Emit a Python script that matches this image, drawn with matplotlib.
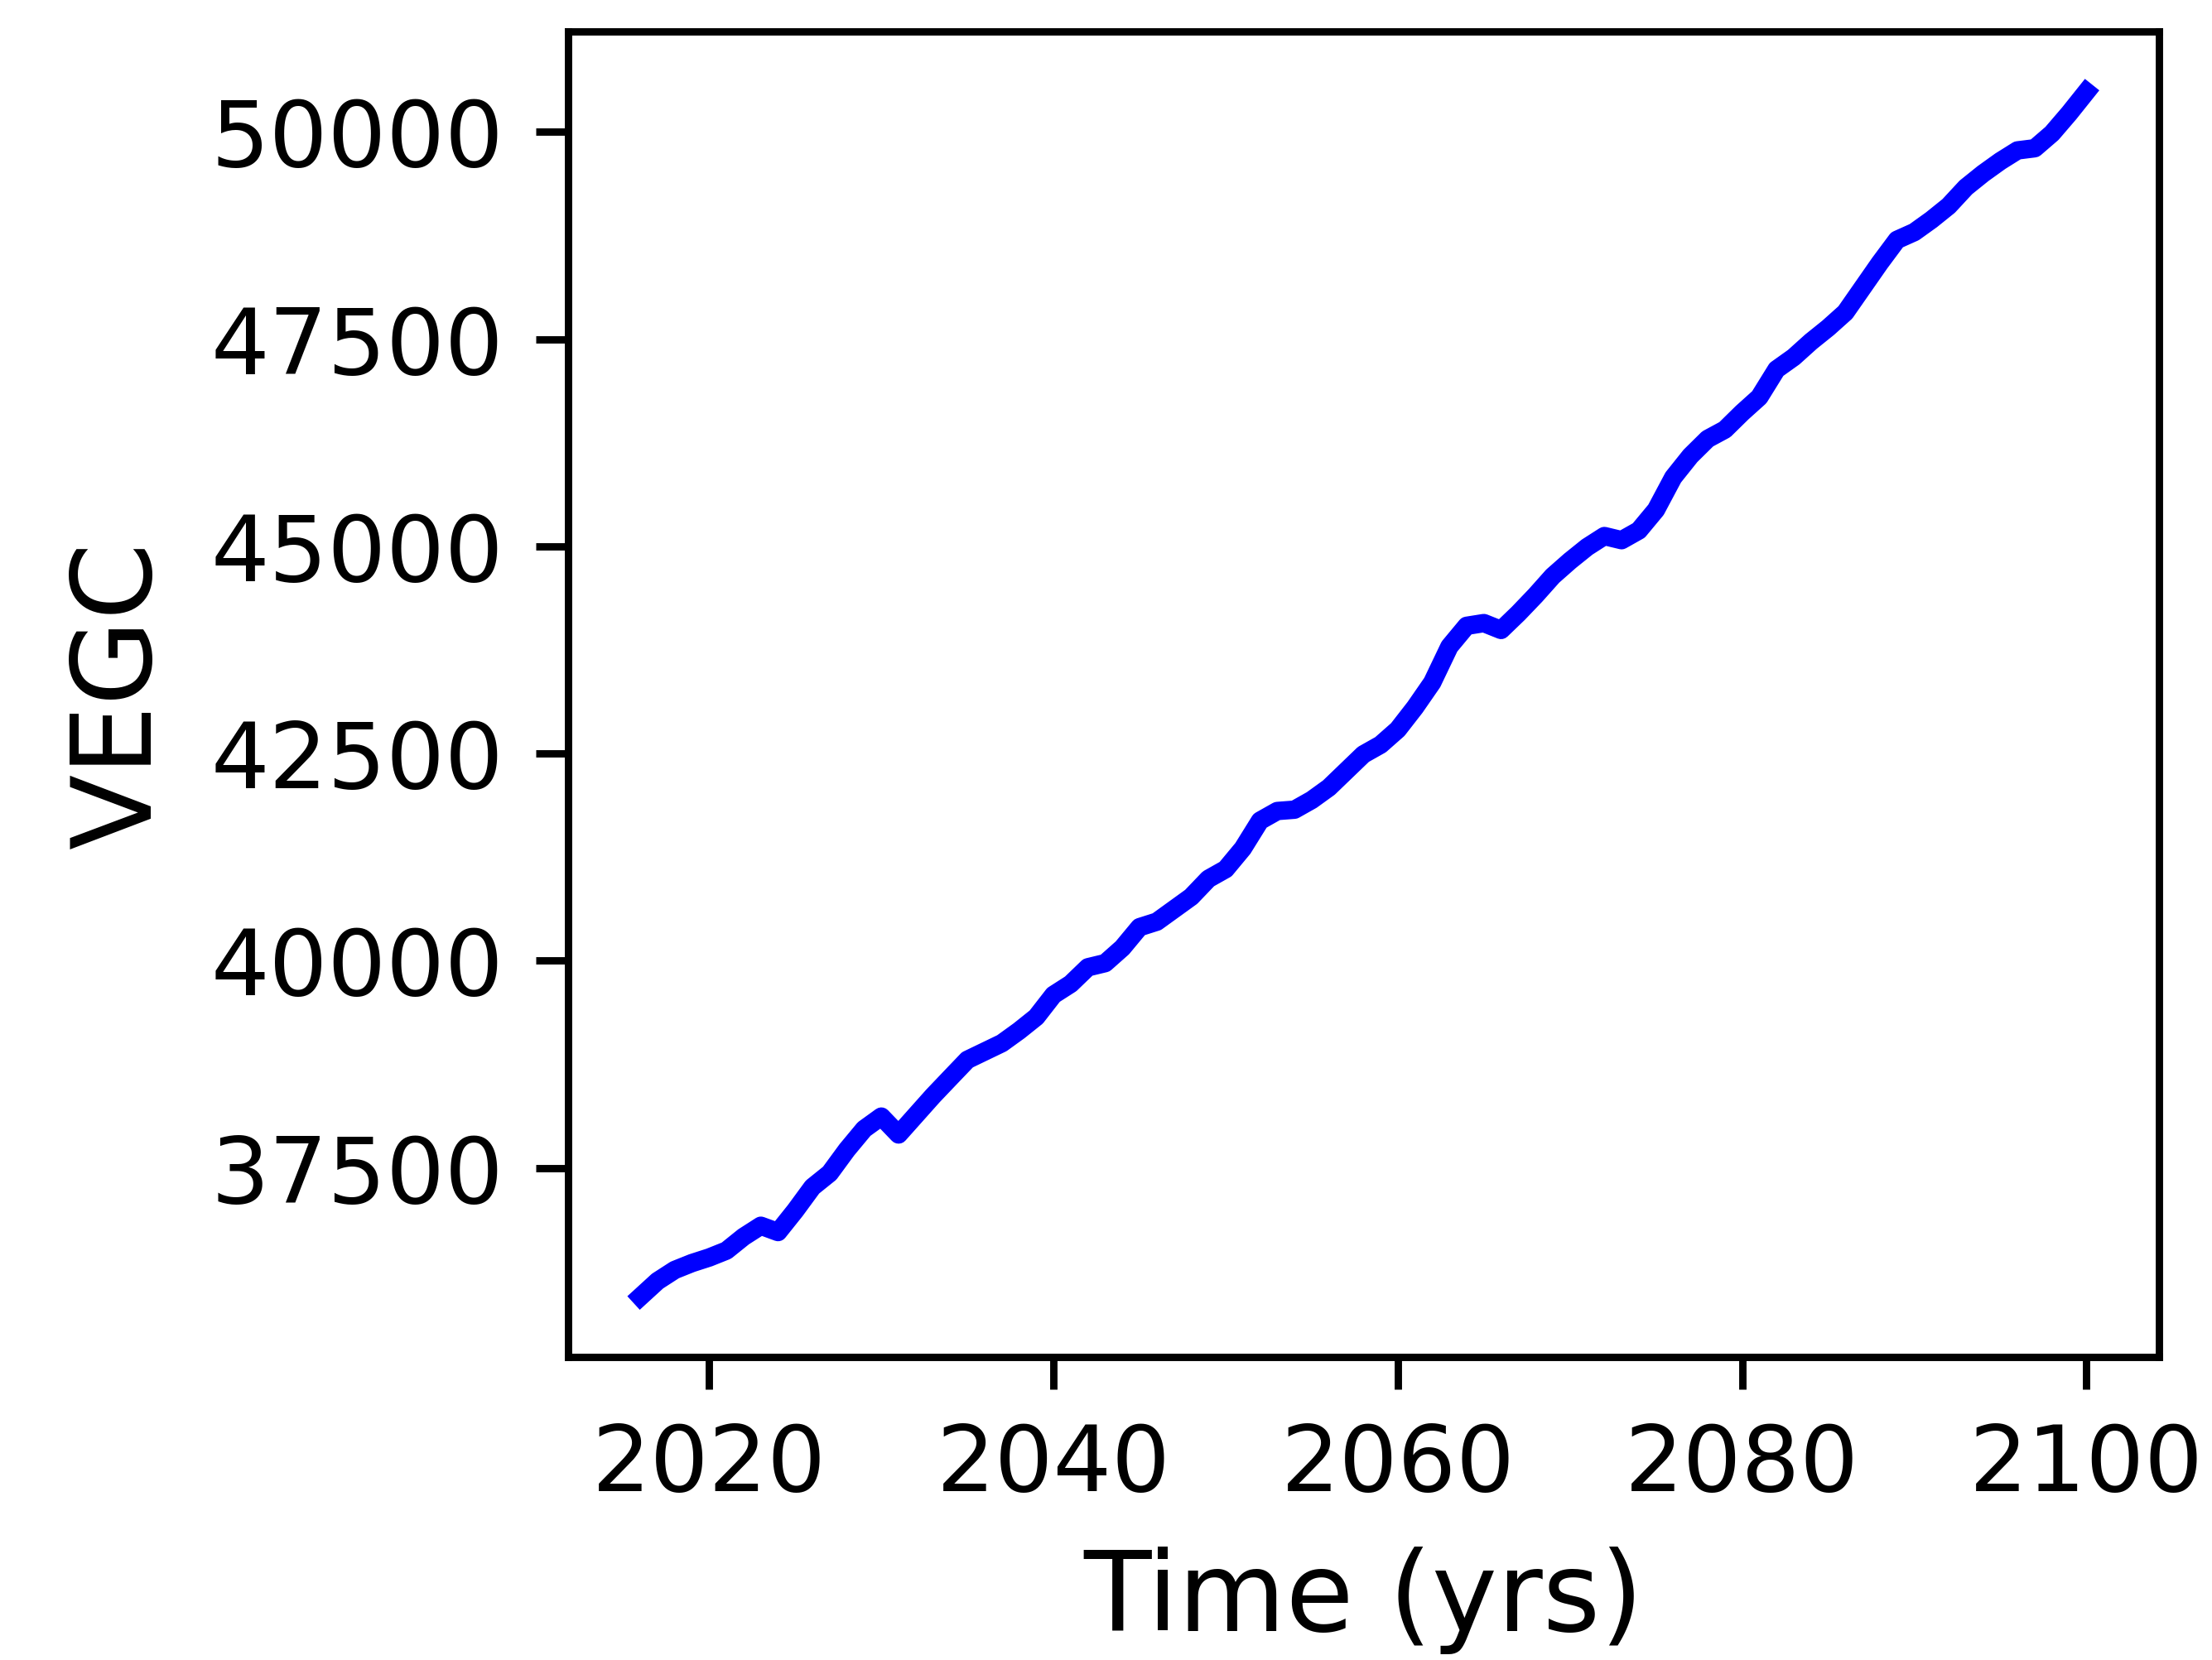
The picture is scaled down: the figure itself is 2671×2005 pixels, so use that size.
import numpy as np
import matplotlib
matplotlib.use("Agg")
import matplotlib.pyplot as plt

# años de la simulacion
years = np.arange(2016, 2101)

# VEGC (un valor por año)
vegc = [35947, 36137, 36271, 36354, 36421, 36504, 36671, 36804, 36728, 36988,
        37271, 37438, 37721, 37971, 38121, 37905, 38138, 38371, 38589, 38806,
        38906, 39006, 39156, 39322, 39589, 39722, 39922, 39972, 40156, 40406,
        40472, 40622, 40772, 40989, 41106, 41356, 41690, 41807, 41823, 41940,
        42090, 42290, 42490, 42607, 42790, 43057, 43357, 43791, 44041, 44074,
        43991, 44191, 44408, 44641, 44824, 44991, 45124, 45074, 45191, 45441,
        45831, 46091, 46296, 46408, 46612, 46799, 47134, 47282, 47469, 47636,
        47822, 48120, 48418, 48697, 48790, 48939, 49106, 49330, 49497, 49646,
        49776, 49802, 49981, 50223, 50483]

fig = plt.figure(figsize=(2671 / 800, 2005 / 800), dpi=800)
ax = fig.add_subplot(111)
fig.subplots_adjust(left=0.2568, right=0.9759, bottom=0.1825, top=0.981)

ax.plot(years, vegc, color='b', linewidth=2)

ax.set_xlabel('Time (yrs)', fontsize=12)
ax.set_ylabel('VEGC', fontsize=12)

fig.savefig('out.png', dpi=800)
